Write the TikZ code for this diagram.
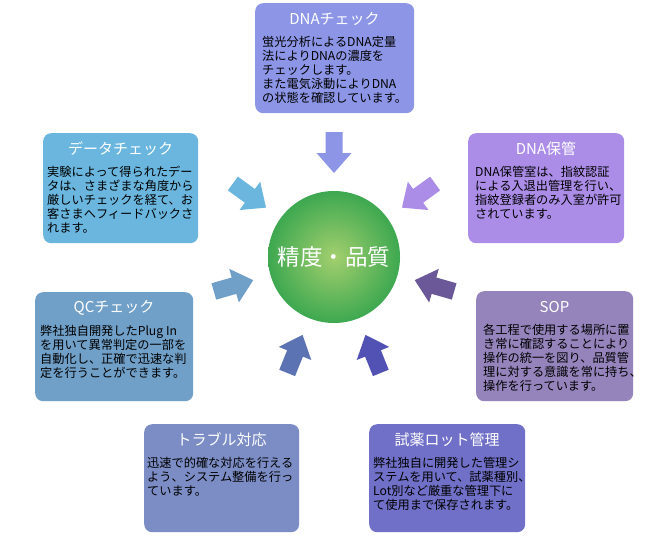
\documentclass[tikz,border=0pt]{standalone}
\usepackage{fontspec}
\setmainfont{Noto Sans CJK JP}
\definecolor{cDnaCheck}{HTML}{8C95E6}
\definecolor{cDnaKeep}{HTML}{AB8DE8}
\definecolor{cData}{HTML}{6AB6DE}
\definecolor{cQC}{HTML}{709FC8}
\definecolor{cSOP}{HTML}{9584BC}
\definecolor{cTrouble}{HTML}{7C8DC6}
\definecolor{cLot}{HTML}{7070C8}
\definecolor{aR}{HTML}{6B5898}
\definecolor{aLL}{HTML}{5B73B3}
\definecolor{aLR}{HTML}{5252B5}
\definecolor{gIn}{HTML}{A3CF6E}
\definecolor{gOut}{HTML}{3DA850}
\tikzset{
  cardbox/.style={rounded corners=8pt, draw=none, inner sep=0pt, anchor=north west},
  cardtitle/.style={font=\fontsize{15}{17}\selectfont, text=white, inner sep=0pt},
  cardbody/.style={font=\fontsize{12.2}{14}\selectfont, align=left, anchor=north west, inner sep=0pt, text=black},
  hub/.style={circle, minimum size=132pt, inner sep=0pt, inner color=gIn, outer color=gOut, text=white, font=\fontsize{22.5}{24}\selectfont},
}
% name, x1, y1, x2, y2, color, title, textx, body
\newcommand\mycard[9]{%
  \node[cardbox, fill=#6, minimum width={#4-#2}, minimum height={#5-#3}] (#1) at (#2,#3) {};
  \node[cardtitle] (#1-title) at ({(#2+#4)/2},#3+16) {#7};
  \node[cardbody] (#1-body) at (#8,#3+33) {#9};
}
% color, angle
\newcommand\inarrow[2]{%
  \fill[#1, shift={(334,257)}, rotate=#2] (84,0) -- (104,17.5) -- (104,8.5) -- (125,8.5) -- (125,-8.5) -- (104,-8.5) -- (104,-17.5) -- cycle;
}
\begin{document}
\begin{tikzpicture}[x=1pt, y=-1pt]
\useasboundingbox (0,0) rectangle (668,535);
\fill[white] (0,0) rectangle (668,535);

\mycard{dnacheck}{255}{3}{414}{113}{cDnaCheck}{DNAチェック}{262}{蛍光分析によるDNA定量\\法によりDNAの濃度を\\チェックします。\\また電気泳動によりDNA\\の状態を確認しています。}
\mycard{dnakeep}{468}{133}{624}{243}{cDnaKeep}{DNA保管}{475}{DNA保管室は、指紋認証\\による入退出管理を行い、\\指紋登録者のみ入室が許可\\されています。}
\mycard{data}{43}{133}{198}{243}{cData}{データチェック}{47}{実験によって得られたデー\\タは、さまざまな角度から\\厳しいチェックを経て、お\\客さまへフィードバックさ\\れます。}
\mycard{qc}{35}{292}{193}{401}{cQC}{QCチェック}{40}{弊社独自開発したPlug In\\を用いて異常判定の一部を\\自動化し、正確で迅速な判\\定を行うことができます。}
\mycard{sop}{476}{291}{633}{401}{cSOP}{SOP}{483}{各工程で使用する場所に置\\き常に確認することにより\\操作の統一を図り、品質管\\理に対する意識を常に持ち、\\操作を行っています。}
\mycard{trouble}{144}{424}{299}{532}{cTrouble}{トラブル対応}{147}{迅速で的確な対応を行える\\よう、システム整備を行っ\\ています。}
\mycard{lot}{369}{424}{525}{532}{cLot}{試薬ロット管理}{373}{弊社独自に開発した管理シ\\ステムを用いて、試薬種別、\\Lot別など厳重な管理下に\\て使用まで保存されます。}

\inarrow{cDnaCheck}{90}
\inarrow{cData}{144}
\inarrow{cDnaKeep}{36}
\inarrow{cQC}{196}
\inarrow{aR}{-16}
\inarrow{aLL}{248}
\inarrow{aLR}{-68}

\node[hub] (center) at (334,257) {精度・品質};
\end{tikzpicture}
\end{document}
